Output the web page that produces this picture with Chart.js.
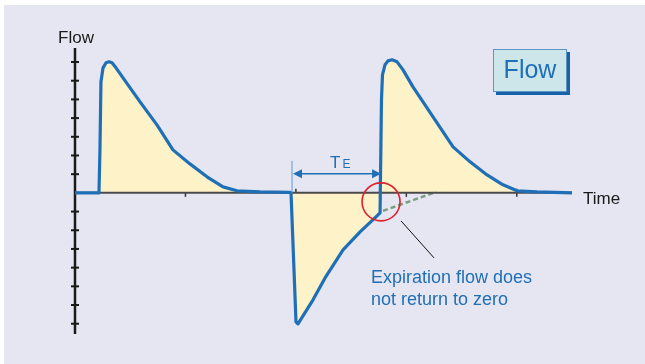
<!DOCTYPE html>
<html>
<head>
<meta charset="utf-8">
<script src="https://cdn.jsdelivr.net/npm/chart.js@4.4.1/dist/chart.umd.min.js"></script>
<style>
  body { margin: 0; background: #fff; }
  canvas { display: block; }
</style>
</head>
<body>
<canvas id="flowChart" width="645" height="364"></canvas>
<script>
// flow waveform (time units = x tick spacing, flow units = y tick spacing)
const times = [0, 0.217, 0.226, 0.235, 0.254, 0.281, 0.308, 0.335, 0.371, 0.435, 0.589, 0.742,
  0.887, 1.041, 1.195, 1.34, 1.467, 1.675, 1.947, 1.956, 2.001, 2.019, 2.155, 2.264, 2.427,
  2.581, 2.725, 2.762, 2.775, 2.784, 2.807, 2.834, 2.87, 2.916, 2.97, 3.06, 3.151, 3.278,
  3.423, 3.577, 3.731, 3.875, 4.002, 4.183, 4.5];
const flows = [0, 0, 2.3, 5.94, 6.69, 6.96, 7.01, 6.96, 6.69, 6.15, 4.87, 3.64,
  2.3, 1.55, 0.86, 0.32, 0.11, 0.05, 0.03, 0, -6.9, -7.01, -5.72, -4.55, -3.05,
  -2.09, -1.28, -1.07, 4.98, 6.31, 6.85, 7.06, 7.12, 7.01, 6.58, 5.67, 4.87, 3.75,
  2.46, 1.66, 0.96, 0.43, 0.11, 0.05, 0];

// extrapolated expiration (dashed)
const extraTimes = [2.789, 3.269];
const extraFlows = [-0.96, 0.05];

const xTicks = [1, 2, 3, 4];
const yTicks = [-7, -6, -5, -4, -3, -2, -1, 1, 2, 3, 4, 5, 6, 7];

const blue = "#1f6fb6";
const fillColor = "#fdf2c8";

const pts = (xs, ys) => xs.map((x, i) => ({ x: x, y: ys[i] }));

const drawing = {
  id: "drawing",
  beforeDraw(chart) {
    const ctx = chart.ctx;
    ctx.save();
    ctx.fillStyle = "#e6e6f2";
    ctx.fillRect(4, 5, chart.width - 4, chart.height - 5);
    ctx.restore();
  },
  beforeDatasetsDraw(chart) {
    const ctx = chart.ctx;
    const x = chart.scales.x;
    const y = chart.scales.y;
    const x0 = x.getPixelForValue(0);
    const y0 = y.getPixelForValue(0);
    ctx.save();
    ctx.strokeStyle = "#1a1a1a";
    ctx.lineWidth = 2;
    yTicks.forEach((v) => {
      const py = y.getPixelForValue(v);
      ctx.beginPath();
      ctx.moveTo(x0 - 4, py);
      ctx.lineTo(x0 + 4, py);
      ctx.stroke();
    });
    ctx.lineWidth = 1.5;
    ctx.strokeStyle = "#333";
    xTicks.forEach((v) => {
      const px = x.getPixelForValue(v);
      ctx.beginPath();
      ctx.moveTo(px, y0 - 4);
      ctx.lineTo(px, y0 + 4);
      ctx.stroke();
    });
    ctx.restore();
  },
  beforeDatasetDraw(chart, args) {
    if (args.index !== 0) return;
    const ctx = chart.ctx;
    const a = chart.chartArea;
    const x = chart.scales.x;
    const y = chart.scales.y;
    const x0 = x.getPixelForValue(0);
    const y0 = y.getPixelForValue(0);
    ctx.save();
    ctx.strokeStyle = "#4a4a4a";
    ctx.lineWidth = 2;
    ctx.beginPath();
    ctx.moveTo(x0, y0);
    ctx.lineTo(a.right, y0);
    ctx.stroke();
    ctx.strokeStyle = "#1a1a1a";
    ctx.lineWidth = 2.5;
    ctx.beginPath();
    ctx.moveTo(x0, a.top);
    ctx.lineTo(x0, a.bottom);
    ctx.stroke();
    ctx.restore();
  },
  afterDatasetsDraw(chart) {
    const ctx = chart.ctx;
    const a = chart.chartArea;
    const x = chart.scales.x;
    const y = chart.scales.y;
    ctx.save();

    // axis titles
    ctx.fillStyle = "#1a1a1a";
    ctx.font = "17px 'Liberation Sans', Arial, sans-serif";
    ctx.textAlign = "center";
    ctx.textBaseline = "alphabetic";
    ctx.fillText("Flow", x.getPixelForValue(0) + 1, a.top - 5);
    ctx.textAlign = "left";
    ctx.fillText("Time", a.right + 11, y.getPixelForValue(0) + 11);

    // TE bracket
    const tStart = x.getPixelForValue(1.965);
    const tEnd = x.getPixelForValue(2.771);
    const ay = y.getPixelForValue(1.02);
    ctx.strokeStyle = "#5b9bd5";
    ctx.lineWidth = 1;
    ctx.beginPath();
    ctx.moveTo(tStart, y.getPixelForValue(0));
    ctx.lineTo(tStart, y.getPixelForValue(1.71));
    ctx.stroke();
    ctx.strokeStyle = blue;
    ctx.lineWidth = 1.5;
    ctx.beginPath();
    ctx.moveTo(tStart + 4, ay);
    ctx.lineTo(tEnd - 4, ay);
    ctx.stroke();
    ctx.fillStyle = blue;
    ctx.beginPath();
    ctx.moveTo(tStart + 1, ay);
    ctx.lineTo(tStart + 10, ay - 4.5);
    ctx.lineTo(tStart + 10, ay + 4.5);
    ctx.closePath();
    ctx.fill();
    ctx.beginPath();
    ctx.moveTo(tEnd, ay);
    ctx.lineTo(tEnd - 9, ay - 4.5);
    ctx.lineTo(tEnd - 9, ay + 4.5);
    ctx.closePath();
    ctx.fill();
    ctx.font = "17px 'Liberation Sans', Arial, sans-serif";
    ctx.fillText("T", 330, ay - 6);
    ctx.font = "12px 'Liberation Sans', Arial, sans-serif";
    ctx.fillText("E", 342.5, ay - 6);

    // red circle
    ctx.strokeStyle = "#e0202e";
    ctx.lineWidth = 1.6;
    ctx.beginPath();
    ctx.arc(x.getPixelForValue(2.771), y.getPixelForValue(-0.48), 19, 0, Math.PI * 2);
    ctx.stroke();

    // pointer
    ctx.strokeStyle = "#111";
    ctx.lineWidth = 1;
    ctx.beginPath();
    ctx.moveTo(x.getPixelForValue(2.952), y.getPixelForValue(-1.5));
    ctx.lineTo(x.getPixelForValue(3.251), y.getPixelForValue(-3.48));
    ctx.stroke();

    ctx.fillStyle = blue;
    ctx.font = "18px 'Liberation Sans', Arial, sans-serif";
    ctx.fillText("Expiration flow does", 371, 283);
    ctx.fillText("not return to zero", 371, 305);

    // Flow box
    ctx.fillStyle = "#1763ab";
    ctx.fillRect(496, 52, 74, 43);
    ctx.fillStyle = "#cce6ea";
    ctx.fillRect(493, 49, 74, 43);
    ctx.strokeStyle = "#5d95c9";
    ctx.lineWidth = 1;
    ctx.strokeRect(493.5, 49.5, 73, 42);
    ctx.fillStyle = blue;
    ctx.font = "25px 'Liberation Sans', Arial, sans-serif";
    ctx.textAlign = "center";
    ctx.textBaseline = "middle";
    ctx.fillText("Flow", 530, 71);

    ctx.restore();
  },
};

new Chart(document.getElementById("flowChart").getContext("2d"), {
  type: "line",
  data: {
    datasets: [
      {
        label: "Flow",
        data: pts(times, flows),
        borderColor: blue,
        borderWidth: 3.2,
        borderJoinStyle: "round",
        borderCapStyle: "round",
        pointRadius: 0,
        fill: false,
        tension: 0,
        order: 1,
      },
      {
        label: "Extrapolated",
        data: pts(extraTimes, extraFlows),
        borderColor: "#7b9e80",
        borderWidth: 2.5,
        borderDash: [5, 3],
        pointRadius: 0,
        fill: false,
        order: 2,
      },
      {
        label: "Area",
        data: pts(times, flows),
        borderWidth: 0,
        borderColor: "rgba(0,0,0,0)",
        backgroundColor: fillColor,
        pointRadius: 0,
        fill: "origin",
        tension: 0,
        order: 3,
      },
    ],
  },
  options: {
    responsive: false,
    devicePixelRatio: 1,
    animation: false,
    layout: { padding: { left: 75, right: 73, top: 48, bottom: 30 } },
    plugins: { legend: { display: false }, tooltip: { enabled: false } },
    scales: {
      x: { type: "linear", min: 0, max: 4.5, display: false },
      y: { min: -7.55, max: 7.75, display: false },
    },
  },
  plugins: [drawing],
});
</script>
</body>
</html>
